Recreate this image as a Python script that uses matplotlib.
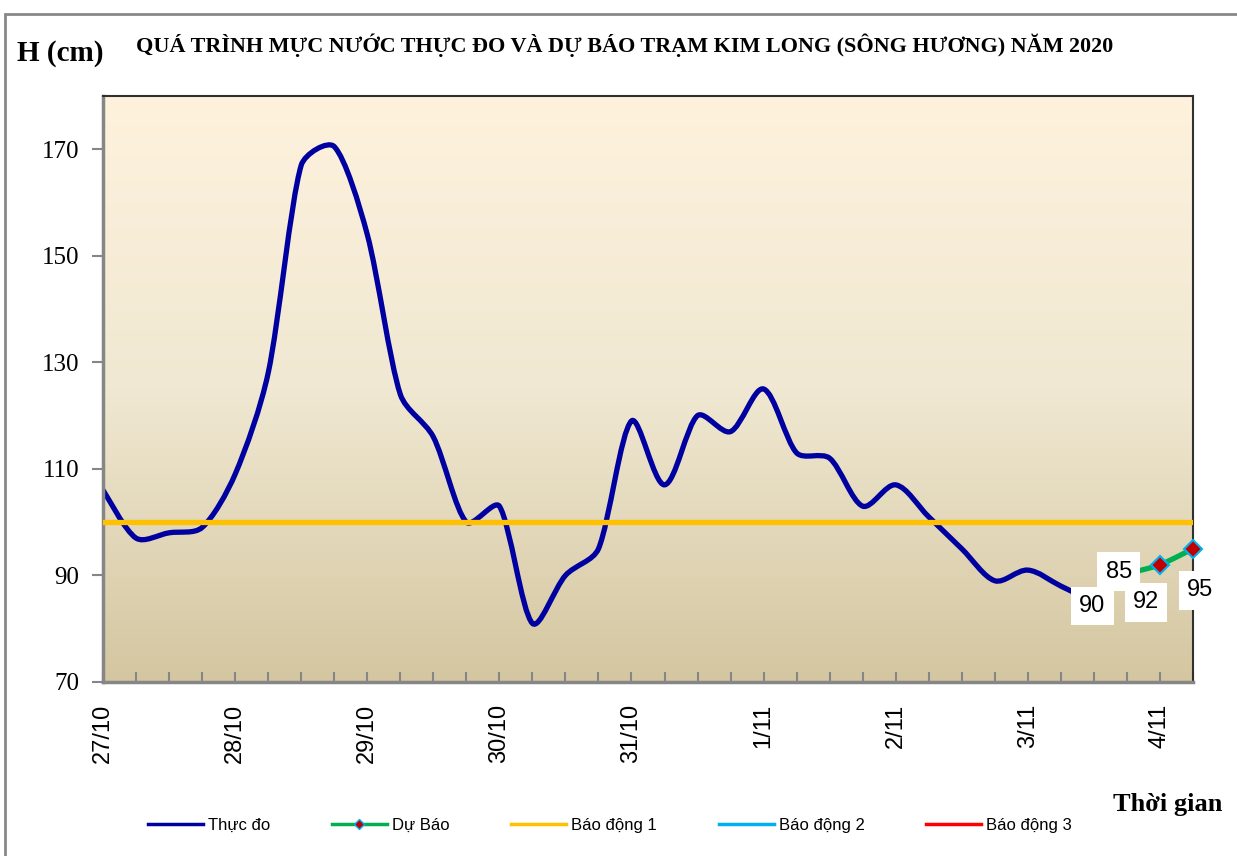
import numpy as np
import matplotlib
matplotlib.use("Agg")
import matplotlib.pyplot as plt
from matplotlib.path import Path
from matplotlib.patches import PathPatch, Rectangle
from matplotlib.colors import LinearSegmentedColormap
from matplotlib.lines import Line2D

# 6-hourly steps from 27/10 00h
obs_values = [106, 97, 98, 99, 109, 128, 167, 170.5, 154, 124, 116, 100, 103, 81,
              90, 95, 119, 107, 120, 117, 125, 113, 112, 103, 107, 101, 95, 89,
              91, 88, 85]
fc_steps = [30, 31, 32, 33]
fc_values = [85, 90, 92, 95]
alarm_levels = [100, 200, 350]
day_labels = ["27/10", "28/10", "29/10", "30/10", "31/10", "1/11", "2/11", "3/11", "4/11"]
n_steps = 34

title = "QUÁ TRÌNH MỰC NƯỚC THỰC ĐO VÀ DỰ BÁO TRẠM KIM LONG (SÔNG HƯƠNG) NĂM 2020"

fig = plt.figure(figsize=(12.37, 8.56), dpi=100)
ax = fig.add_axes([0.0833, 0.2033, 0.8811, 0.6846])

# pixel size of one data unit, so the smoothing is done in screen space like excel
bb = ax.get_position()
sx = bb.width * 1237 / (n_steps - 1)
sy = bb.height * 856 / 110.0


def smooth_path(x, y):
    p = np.column_stack([np.asarray(x, float) * sx, np.asarray(y, float) * sy])
    n = len(p)
    ext = np.vstack([p[:1], p, p[-1:]])
    d = np.hypot(*np.diff(ext, axis=0).T)  # d[k] = dist(ext[k], ext[k+1])
    verts = [tuple(p[0])]
    codes = [Path.MOVETO]
    for i in range(n - 1):
        # ext index of p[i] is i+1
        d_prev, d_cur, d_next = d[i], d[i + 1], d[i + 2]
        w1 = min(d_cur / (d_prev + d_cur), 0.5)
        w2 = min(d_cur / (d_cur + d_next), 0.5)
        c1 = p[i] + (ext[i + 2] - ext[i]) * w1 / 3
        c2 = p[i + 1] - (ext[i + 3] - ext[i + 1]) * w2 / 3
        verts += [tuple(c1), tuple(c2), tuple(p[i + 1])]
        codes += [Path.CURVE4] * 3
    verts = [(vx / sx, vy / sy) for vx, vy in verts]
    return Path(verts, codes)


# background gradient
cmap = LinearSegmentedColormap.from_list("bg", ["#D4C6A0", "#F0E8D2", "#FEF2DD"])
grad = np.linspace(0, 1, 256).reshape(-1, 1)
ax.imshow(grad, extent=[0, 1, 0, 1], transform=ax.transAxes, cmap=cmap,
          origin="lower", aspect="auto", zorder=0)

blue = "#0000A0"
green = "#00B050"

obs_x = np.arange(len(obs_values))
ax.add_patch(PathPatch(smooth_path(obs_x, obs_values), fc="none", ec=blue,
                       lw=3.8, capstyle="round", joinstyle="round", zorder=2))
ax.add_patch(PathPatch(smooth_path(fc_steps, fc_values), fc="none", ec=green,
                       lw=3.8, zorder=2))
ax.plot(fc_steps, fc_values, ls="none", marker="D", ms=9, mfc="#C00000",
        mec="#00B0F0", mew=1.5, zorder=4, clip_on=False)

alarm_colors = ["#FFC000", "#00B0F0", "#FF0000"]
for lvl, c in zip(alarm_levels, alarm_colors):
    ax.plot([0, n_steps - 1], [lvl, lvl], color=c, lw=3.8, zorder=3)

# data labels for forecast
offsets = [(18, 22), (-25, -22), (-10, -27), (5, -30)]
for xs, v, off in zip(fc_steps, fc_values, offsets):
    ax.annotate(str(v), xy=(xs, v), xytext=off, textcoords="offset points",
                ha="center", va="center", fontsize=17, family="Liberation Sans",
                bbox=dict(boxstyle="square,pad=0.35", fc="white", ec="none"),
                zorder=5, annotation_clip=False)

ax.set_xlim(0, n_steps - 1)
ax.set_ylim(70, 180)
ax.set_yticks([70, 90, 110, 130, 150, 170])
ax.set_xticks(np.arange(n_steps))
ax.set_xticklabels([day_labels[i // 4] if i % 4 == 0 else "" for i in range(n_steps)],
                   rotation=90, fontsize=17, family="Liberation Sans")
for lab in ax.get_yticklabels():
    lab.set_family("Liberation Serif")
    lab.set_fontsize(18)
ax.tick_params(axis="x", direction="in", length=7, width=1.5, color="#868686", pad=16)
ax.tick_params(axis="y", direction="out", length=8, width=1.5, color="#868686", pad=9)

for s in ["left", "bottom"]:
    ax.spines[s].set_color("#868686")
    ax.spines[s].set_linewidth(2.5)
for s in ["top", "right"]:
    ax.spines[s].set_color("#303030")
    ax.spines[s].set_linewidth(1.5)

fig.text(0.505, 0.947, title, ha="center", va="center", fontsize=15.9,
         fontweight="bold", family="Liberation Serif")
fig.text(0.014, 0.937, "H (cm)", ha="left", va="center", fontsize=21,
         fontweight="bold", family="Liberation Serif")
fig.text(0.988, 0.060, "Thời gian", ha="right", va="center", fontsize=19,
         fontweight="bold", family="Liberation Serif")

handles = [
    Line2D([], [], color=blue, lw=2.5),
    Line2D([], [], color=green, lw=2.5, marker="D", ms=5, mfc="#C00000", mec="#00B0F0"),
    Line2D([], [], color=alarm_colors[0], lw=2.5),
    Line2D([], [], color=alarm_colors[1], lw=2.5),
    Line2D([], [], color=alarm_colors[2], lw=2.5),
]
names = ["Thực đo", "Dự Báo", "Báo động 1", "Báo động 2", "Báo động 3"]
fig.legend(handles, names, loc="center", bbox_to_anchor=(0.493, 0.036), ncol=5,
           frameon=False, prop={"family": "Liberation Sans", "size": 12},
           handlelength=3.3, handletextpad=0.3, columnspacing=3.7)

# outer chart border
fig.add_artist(Rectangle((5 / 1237, -0.01), 1.0, 1 - 14 / 856 + 0.01,
                         transform=fig.transFigure, fill=False, ec="#888888", lw=2))

fig.savefig("out.png", dpi=100)
